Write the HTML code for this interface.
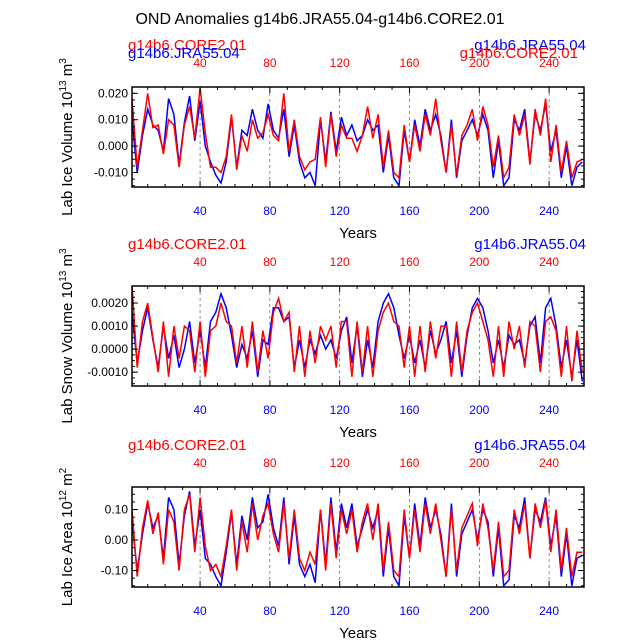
<!DOCTYPE html>
<html><head><meta charset="utf-8"><style>
body{margin:0;background:#fff}
svg text{font-family:"Liberation Sans",sans-serif}
</style></head><body>
<svg id="c" width="638" height="638" xmlns="http://www.w3.org/2000/svg">
<text x="320" y="24" font-size="16" text-anchor="middle">OND Anomalies g14b6.JRA55.04-g14b6.CORE2.01</text>
</svg>
<script>
const years=[];for(let y=1;y<=259;y+=3)years.push(y);
const iceRed=[0.018,-0.008,0.006,0.020,0.007,0.008,-0.003,0.010,0.008,-0.008,0.008,0.015,0.003,0.022,0.005,-0.008,-0.008,-0.010,-0.004,0.012,-0.009,0.004,-0.002,0.010,0.003,0.005,0.012,0.004,0.002,0.020,-0.002,0.010,-0.004,-0.009,-0.006,-0.005,0.011,-0.008,0.012,-0.004,0.008,0.003,0.003,-0.002,0.004,0.015,0.003,0.012,-0.008,0.006,-0.010,-0.012,0.008,-0.006,0.008,-0.002,0.012,0.004,0.018,0.002,-0.010,0.008,-0.011,0.004,0.008,0.014,0.002,0.015,0.008,-0.008,0.004,-0.012,-0.008,0.012,0.004,0.012,-0.007,0.014,0.004,0.018,-0.006,0.008,-0.010,0.002,-0.012,-0.006,-0.005];
const iceBlue=[0.010,-0.010,0.004,0.014,0.008,0.006,-0.002,0.018,0.012,-0.007,0.009,0.019,0.002,0.017,0.000,-0.006,-0.011,-0.014,-0.006,0.011,-0.008,0.006,0.004,0.014,0.006,0.003,0.016,0.006,0.003,0.014,-0.004,0.008,-0.006,-0.012,-0.010,-0.015,0.010,-0.006,0.013,-0.002,0.011,0.004,0.008,0.002,0.004,0.010,0.006,0.008,-0.010,0.004,-0.012,-0.015,0.006,-0.006,0.010,0.000,0.014,0.006,0.012,0.004,-0.010,0.010,-0.012,0.002,0.006,0.010,0.004,0.012,0.006,-0.012,0.002,-0.015,-0.012,0.010,0.006,0.014,-0.006,0.012,0.006,0.016,-0.002,0.006,-0.012,0.000,-0.015,-0.008,-0.006];
const snowRed=[0.0028,-0.0008,0.0012,0.0020,0.0005,-0.0010,0.0012,-0.0012,0.0010,-0.0004,0.0010,0.0008,-0.0010,0.0012,-0.0012,0.0008,0.0010,0.0020,0.0012,0.0010,-0.0006,0.0010,-0.0008,0.0012,-0.0010,0.0008,-0.0004,0.0016,0.0022,0.0012,0.0016,-0.0010,0.0010,-0.0012,0.0008,-0.0006,0.0010,0.0004,0.0010,-0.0008,0.0012,0.0012,-0.0012,0.0012,-0.0010,0.0010,-0.0012,0.0008,0.0016,0.0020,0.0012,0.0010,-0.0008,0.0010,-0.0012,0.0010,-0.0010,0.0012,-0.0004,0.0010,0.0010,-0.0012,0.0012,-0.0010,0.0008,0.0016,0.0020,0.0012,0.0004,-0.0012,0.0010,-0.0012,0.0012,0.0000,0.0010,-0.0008,0.0012,0.0010,-0.0010,0.0012,0.0014,0.0008,-0.0012,0.0010,-0.0014,0.0008,-0.0010];
const snowBlue=[0.0016,-0.0006,0.0008,0.0018,0.0004,-0.0008,0.0010,-0.0004,0.0006,-0.0008,0.0000,0.0012,-0.0006,0.0008,-0.0008,0.0012,0.0016,0.0024,0.0018,0.0006,-0.0008,0.0002,-0.0004,0.0008,-0.0012,0.0004,0.0002,0.0018,0.0018,0.0012,0.0014,-0.0008,0.0004,-0.0008,0.0004,-0.0002,0.0006,0.0000,0.0004,-0.0004,0.0008,0.0014,-0.0006,0.0010,-0.0012,0.0004,-0.0008,0.0012,0.0020,0.0024,0.0018,0.0006,-0.0004,0.0006,-0.0006,0.0004,-0.0008,0.0008,-0.0002,0.0004,0.0012,-0.0006,0.0008,-0.0012,0.0006,0.0018,0.0022,0.0018,0.0008,-0.0006,0.0004,-0.0008,0.0006,0.0002,0.0004,-0.0006,0.0010,0.0014,-0.0006,0.0018,0.0022,0.0010,-0.0008,0.0004,-0.0012,0.0004,-0.0014];
const areaRed=[0.10,-0.12,0.04,0.13,0.02,0.09,-0.08,0.10,0.06,-0.10,0.10,0.15,-0.04,0.14,-0.02,-0.10,-0.08,-0.12,-0.02,0.10,-0.10,0.06,-0.04,0.12,0.00,0.08,0.12,0.02,-0.04,0.12,-0.06,0.10,-0.06,-0.10,-0.04,-0.08,0.10,-0.10,0.12,-0.06,0.10,0.02,0.10,-0.04,0.06,0.12,0.00,0.12,-0.10,0.06,-0.10,-0.12,0.10,-0.06,0.10,-0.04,0.12,0.02,0.12,0.00,-0.12,0.10,-0.10,0.04,0.08,0.12,-0.02,0.12,0.04,-0.10,0.06,-0.12,-0.10,0.10,0.02,0.12,-0.06,0.12,0.04,0.13,-0.04,0.10,-0.10,0.04,-0.12,-0.04,-0.04];
const areaBlue=[0.06,-0.10,0.02,0.12,0.04,0.08,-0.06,0.14,0.10,-0.08,0.08,0.16,-0.02,0.10,-0.06,-0.08,-0.12,-0.15,-0.04,0.09,-0.08,0.08,0.00,0.14,0.04,0.06,0.15,0.04,-0.02,0.14,-0.08,0.08,-0.08,-0.12,-0.08,-0.14,0.10,-0.08,0.14,-0.04,0.12,0.04,0.12,-0.02,0.04,0.10,0.04,0.10,-0.12,0.04,-0.12,-0.15,0.08,-0.06,0.12,-0.02,0.14,0.04,0.10,0.02,-0.12,0.12,-0.12,0.02,0.06,0.10,0.00,0.10,0.06,-0.12,0.04,-0.15,-0.13,0.08,0.04,0.14,-0.06,0.10,0.06,0.14,-0.02,0.08,-0.12,0.02,-0.15,-0.06,-0.05];
const xTicks=[40,80,120,160,200,240];
const panels=[
 {top:87,ymin:-0.0155,ymax:0.0224,ticks:[-0.010,0.000,0.010,0.020],fmt:v=>v.toFixed(3),minor:0.0025,red:iceRed,blue:iceBlue,label:'Lab Ice Volume 10',exp:'13',unit:' m',uexp:'3',name:'ice-volume',swap:true},
 {top:286,ymin:-0.0016,ymax:0.00274,ticks:[-0.0010,0.0000,0.0010,0.0020],fmt:v=>v.toFixed(4),minor:0.00025,red:snowRed,blue:snowBlue,label:'Lab Snow Volume 10',exp:'13',unit:' m',uexp:'3',name:'snow-volume',swap:false},
 {top:487,ymin:-0.154,ymax:0.174,ticks:[-0.10,0.00,0.10],fmt:v=>v.toFixed(2),minor:0.025,red:areaRed,blue:areaBlue,label:'Lab Ice Area 10',exp:'12',unit:' m',uexp:'2',name:'ice-area',swap:false}
];
const svg=document.getElementById('c');const NS='http://www.w3.org/2000/svg';
function mk(t,a,p){const e=document.createElementNS(NS,t);for(const k in a)e.setAttribute(k,a[k]);(p||svg).appendChild(e);return e;}
const L=132,R=584,H=100;
const xs=v=>L+(v-1)/(260-1)*(R-L);
panels.forEach(p=>{
 const g=mk('g',{});
 
 
 const ys=v=>p.top+H-(v-p.ymin)/(p.ymax-p.ymin)*H;
 xTicks.forEach(t=>{const l=mk('line',{x1:xs(t),x2:xs(t),y1:p.top,y2:p.top+H,stroke:'#444','stroke-width':0.6,'stroke-dasharray':'3,3'},g);});
 ['blue','red'].forEach(s=>{
  const arr=p[s];let d='';
  arr.forEach((v,i)=>{d+=(i?'L':'M')+xs(years[i]).toFixed(1)+','+ys(v).toFixed(1);});
  const path=mk('path',{d:d,fill:'none',stroke:s==='red'?'#f00':'#00f','stroke-width':1.5,'clip-path':'url(#cl'+p.top+')'},g);
  
  
 });
 const cp=mk('clipPath',{id:'cl'+p.top},g);mk('rect',{x:L,y:p.top,width:R-L,height:H},cp);
 const box=mk('rect',{x:L,y:p.top,width:R-L,height:H,fill:'none',stroke:'#000','stroke-width':1.5},g);
 
 for(let v=Math.ceil(p.ymin/p.minor)*p.minor;v<=p.ymax;v+=p.minor){const y=ys(v);mk('line',{x1:L,x2:L+3,y1:y,y2:y,stroke:'#000'},g);mk('line',{x1:R,x2:R-3,y1:y,y2:y,stroke:'#000'},g);}
 p.ticks.forEach(t=>{const y=ys(t);mk('line',{x1:L,x2:L+6,y1:y,y2:y,stroke:'#000'},g);mk('line',{x1:R,x2:R-6,y1:y,y2:y,stroke:'#000'},g);
  const tx=mk('text',{x:L-4,y:y+4,'font-size':12,'text-anchor':'end'},g);tx.textContent=p.fmt(t);});
 for(let v=10;v<=260;v+=10){const x=xs(v);const len=v%40===0?6:3;mk('line',{x1:x,x2:x,y1:p.top+H,y2:p.top+H-len,stroke:'#000'},g);mk('line',{x1:x,x2:x,y1:p.top,y2:p.top+len,stroke:'#000'},g);}
 xTicks.forEach(t=>{
  const b=mk('text',{x:xs(t),y:p.top+H+28,'font-size':12,'text-anchor':'middle',fill:'#00f'},g);b.textContent=t;
  const r=mk('text',{x:xs(t),y:p.top-20,'font-size':12,'text-anchor':'middle',fill:'#f00'},g);r.textContent=t;
 });
 const xt=mk('text',{x:358,y:p.top+H+51,'font-size':15,'text-anchor':'middle'},g);xt.textContent='Years';
 const cy=p.top+H/2;
 const yt=mk('text',{x:0,y:0,'font-size':15,'text-anchor':'middle',transform:'translate(72,'+cy+') rotate(-90)'},g);
 
 yt.innerHTML=p.label+'<tspan dy="-6" font-size="10">'+p.exp+'</tspan><tspan dy="6">'+p.unit+'</tspan><tspan dy="-6" font-size="10">'+p.uexp+'</tspan>';
 const mkLab=(x,y,anchor,col,txt,name)=>{const t=mk('text',{x:x,y:y,'font-size':15,'text-anchor':anchor,fill:col},g);t.textContent=txt;};
 mkLab(128,p.top-37,'start','#f00','g14b6.CORE2.01','left-series-label');
 mkLab(586,p.top-37,'end','#00f','g14b6.JRA55.04','right-series-label');
 if(p.swap){mkLab(128,p.top-29,'start','#00f','g14b6.JRA55.04','left-series-label-2');mkLab(578,p.top-29,'end','#f00','g14b6.CORE2.01','right-series-label-2');}
});
</script>
</body></html>
